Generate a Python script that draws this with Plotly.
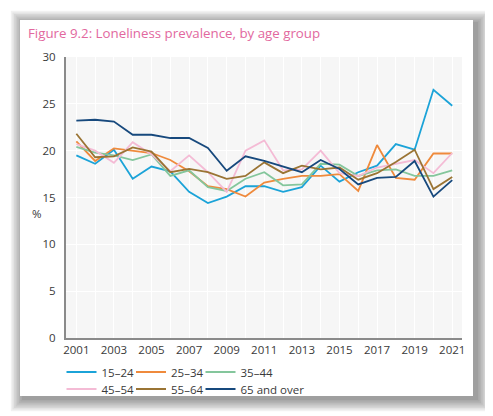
import plotly.graph_objects as go

# Loneliness prevalence (%) by age group
years = list(range(2001, 2022))
age_15_24 = [19.5, 18.6, 20.1, 17.0, 18.3, 17.8, 15.6, 14.4, 15.1, 16.2, 16.2,
             15.6, 16.1, 18.4, 16.7, 17.7, 18.4, 20.7, 20.1, 26.5, 24.8]
age_25_34 = [21.0, 18.9, 20.25, 20.0, 19.75, 19.0, 17.8, 16.2, 15.9, 15.1, 16.6,
             17.0, 17.3, 17.3, 17.5, 15.7, 20.6, 17.1, 16.9, 19.7, 19.7]
age_35_44 = [20.4, 19.8, 19.5, 19.0, 19.6, 17.3, 17.9, 16.1, 15.7, 17.0, 17.7,
             16.3, 16.4, 18.6, 18.5, 17.3, 17.9, 18.0, 17.3, 17.3, 17.9]
age_45_54 = [20.7, 20.0, 18.7, 20.9, 19.6, 17.8, 19.5, 17.7, 15.6, 20.0, 21.1,
             17.9, 18.0, 20.0, 17.6, 17.3, 18.2, 18.6, 19.0, 17.6, 19.75]
age_55_64 = [21.8, 19.3, 19.4, 20.35, 19.9, 17.7, 18.05, 17.7, 17.0, 17.3, 18.75,
             17.6, 18.4, 18.0, 18.2, 16.9, 17.6, 18.8, 20.1, 15.9, 17.2]
age_65_over = [23.2, 23.3, 23.1, 21.7, 21.7, 21.35, 21.35, 20.3, 17.85, 19.4, 18.9,
               18.3, 17.7, 19.0, 18.05, 16.4, 17.1, 17.2, 18.9, 15.1, 16.85]

names = ["15–24", "25–34", "35–44", "45–54", "55–64", "65 and over"]
values = [age_15_24, age_25_34, age_35_44, age_45_54, age_55_64, age_65_over]
colors = ["#1ba3d8", "#ef8a3c", "#84c69c", "#f4bbd5", "#9a7434", "#17497d"]

# page body has an 8px margin, so the figure sits at (8, 8) in the window
OFF = 8
W, H = 493 - OFF, 416 - OFF
L, R, T, B = 66 - OFF, 31, 57 - OFF, 78
PW, PH = W - L - R, H - T - B


def px(x):
    return (x - OFF - L) / PW


def py(y):
    return (H - B - (y - OFF)) / PH


font = "Open Sans, Lato, sans-serif"

fig = go.Figure()
legends = {}
col_x = [61.5, 131, 200.5]
row_y = [372, 389]
for i, (name, vals, color) in enumerate(zip(names, values, colors)):
    key = "legend" if i == 0 else "legend%d" % (i + 1)
    fig.add_trace(go.Scatter(x=years, y=vals, mode="lines", name=name,
                             line=dict(color=color, width=1.8), legend=key,
                             showlegend=True))
    legends[key] = dict(orientation="h", xanchor="left", yanchor="middle",
                        itemwidth=30, bgcolor="rgba(0,0,0,0)",
                        font=dict(size=11.5),
                        x=px(col_x[i % 3]), y=py(row_y[i // 3]))

shapes = []
# soft card shadow
for i in range(8):
    g = i * 1.6
    shapes.append(dict(type="rect", xref="paper", yref="paper", layer="below",
                       x0=px(20 + 2 - g), x1=px(473 + 5 + g),
                       y0=py(396 + 4 + g), y1=py(20 + 2 - g),
                       line=dict(width=0), fillcolor="rgba(0,0,0,0.055)"))
# white card
shapes.append(dict(type="rect", xref="paper", yref="paper", layer="below",
                   x0=px(20), x1=px(473), y0=py(396), y1=py(20),
                   line=dict(width=0), fillcolor="white"))
# plot area
shapes.append(dict(type="rect", xref="paper", yref="paper", layer="below",
                   x0=0, x1=1, y0=0, y1=1,
                   line=dict(width=0), fillcolor="#f6f6f6"))

fig.update_layout(
    width=W, height=H,
    margin=dict(l=L, r=R, t=T, b=B),
    showlegend=True,
    paper_bgcolor="white",
    plot_bgcolor="rgba(0,0,0,0)",
    font=dict(family=font, size=11.5, color="#3a3a3a"),
    shapes=shapes,
    annotations=[
        dict(text="Figure 9.2: Loneliness prevalence, by age group",
             xref="paper", yref="paper", x=px(26), y=py(33),
             xanchor="left", yanchor="middle", showarrow=False,
             font=dict(family=font, size=13.3, color="#e2689e")),
        dict(text="%", xref="paper", yref="paper", x=px(37), y=py(213),
             xanchor="center", yanchor="middle", showarrow=False,
             font=dict(family=font, size=11.5, color="#3a3a3a")),
    ],
    xaxis=dict(range=[2000.45, 2021.52], tickvals=list(range(2001, 2022, 2)),
               showgrid=False, showline=True, linecolor="#8a8a8a", linewidth=2,
               ticks="", zeroline=False,
               minor=dict(dtick=1, tick0=2001, showgrid=True, gridcolor="white",
                          gridwidth=1)),
    yaxis=dict(range=[0, 30], dtick=5, showgrid=True, gridcolor="white",
               gridwidth=1, showline=True, linecolor="#8a8a8a", linewidth=2,
               ticks="", zeroline=False, ticklabelstandoff=6),
    **legends,
)

fig.write_html("out.html")
